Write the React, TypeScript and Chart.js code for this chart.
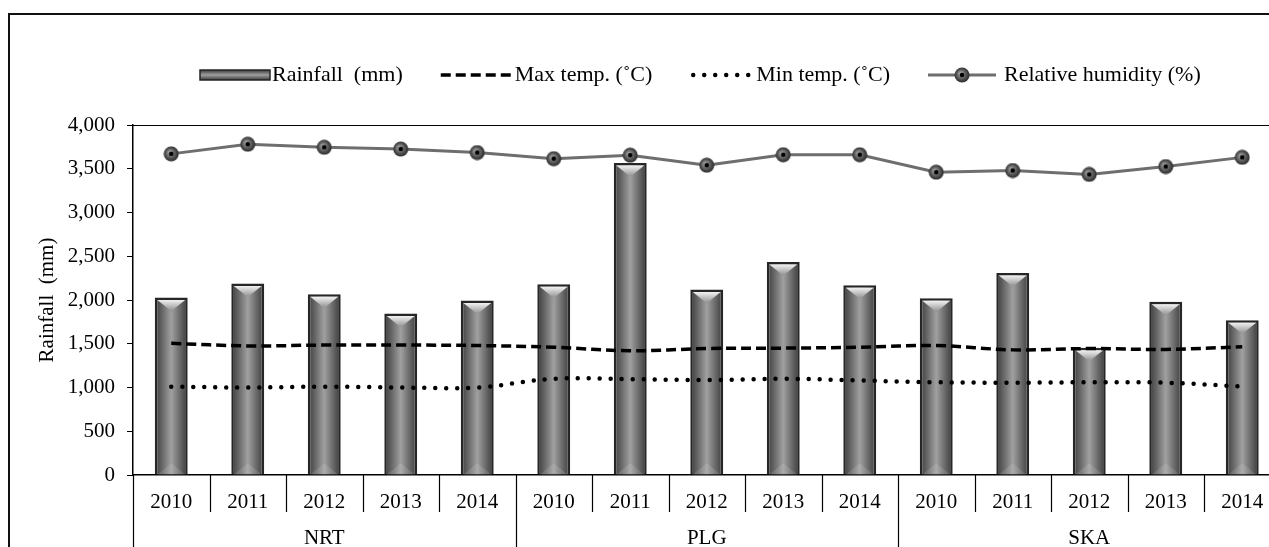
import React, { useEffect, useRef } from 'react';
import { Chart, registerables } from 'chart.js';

Chart.register(...registerables);

// ---------- data ----------
const categories = [
  '2010', '2011', '2012', '2013', '2014',
  '2010', '2011', '2012', '2013', '2014',
  '2010', '2011', '2012', '2013', '2014',
];
const groups = ['NRT', 'PLG', 'SKA'];
const rainfall = [2030, 2190, 2065, 1845, 1995, 2180, 3565, 2120, 2435, 2170, 2020, 2310, 1455, 1980, 1770];
const maxTemp = [30.1, 29.5, 29.7, 29.7, 29.6, 29.2, 28.4, 28.9, 29.0, 29.2, 29.6, 28.6, 28.9, 28.7, 29.3];
const minTemp = [20.2, 20.0, 20.2, 20.0, 20.0, 22.0, 21.9, 21.7, 22.0, 21.6, 21.2, 21.1, 21.2, 21.1, 20.2];
const humidity = [73.4, 75.6, 74.9, 74.5, 73.7, 72.3, 73.1, 70.8, 73.2, 73.2, 69.2, 69.6, 68.7, 70.5, 72.6];
const yTickValues = [0, 500, 1000, 1500, 2000, 2500, 3000, 3500, 4000];
const legendLabels = ['Rainfall  (mm)', 'Max temp. (\u02DAC)', 'Min temp. (\u02DAC)', 'Relative humidity (%)'];
const yTitle = 'Rainfall  (mm)';

const FONT = '"Liberation Serif", "Times New Roman", serif';
const BAR_PCT = 0.43;

export default function App() {
  const ref = useRef<HTMLCanvasElement>(null);

  useEffect(() => {
    const canvas = ref.current;
    if (!canvas) return;

    // humidity marker
    const marker = document.createElement('canvas');
    marker.width = 16;
    marker.height = 16;
    const mc = marker.getContext('2d')!;
    const rg = mc.createRadialGradient(6.5, 6.5, 1, 8, 8, 8);
    rg.addColorStop(0, '#a0a0a0');
    rg.addColorStop(0.65, '#4a4a4a');
    rg.addColorStop(1, '#262626');
    mc.fillStyle = rg;
    mc.beginPath();
    mc.arc(8, 8, 7.5, 0, Math.PI * 2);
    mc.fill();
    mc.fillStyle = '#000';
    mc.beginPath();
    mc.arc(8, 8, 2.3, 0, Math.PI * 2);
    mc.fill();

    const barFill = (c: any) => {
      const chart = c.chart;
      const xs = chart.scales && chart.scales.x;
      if (!xs || c.dataIndex === undefined) return '#808080';
      const cx = xs.getPixelForValue(c.dataIndex);
      const w = (xs.width / categories.length) * BAR_PCT;
      if (!Number.isFinite(cx) || !Number.isFinite(w) || w <= 0) return '#808080';
      const g = chart.ctx.createLinearGradient(cx - w / 2, 0, cx + w / 2, 0);
      g.addColorStop(0, '#3c3c3c');
      g.addColorStop(0.2, '#626262');
      g.addColorStop(0.5, '#a0a0a0');
      g.addColorStop(0.8, '#626262');
      g.addColorStop(1, '#3a3a3a');
      return g;
    };

    const bevelPlugin = {
      id: 'bevel',
      afterDatasetDraw(chart: any, args: any) {
        if (args.index !== 0) return;
        const ctx = chart.ctx;
        const meta = chart.getDatasetMeta(0);
        ctx.save();
        meta.data.forEach((bar: any) => {
          const { x, y, base, width } = bar.getProps(['x', 'y', 'base', 'width'], true);
          if (![x, y, base, width].every(Number.isFinite)) return;
          const b = 2.5;
          const l = x - width / 2 + b;
          const r = x + width / 2 - b;
          const t = y + b;
          const h = (r - l) * 0.4;
          const g = ctx.createLinearGradient(0, t, 0, t + h);
          g.addColorStop(0, '#f2f2f2');
          g.addColorStop(1, '#8e8e8e');
          ctx.fillStyle = g;
          ctx.beginPath();
          ctx.moveTo(l, t);
          ctx.lineTo(r, t);
          ctx.lineTo(x, t + h);
          ctx.closePath();
          ctx.fill();
          ctx.fillStyle = 'rgba(255,255,255,0.12)';
          ctx.beginPath();
          ctx.moveTo(l, base);
          ctx.lineTo(r, base);
          ctx.lineTo(x, base - h);
          ctx.closePath();
          ctx.fill();
        });
        ctx.restore();
      },
    };

    const axisDecor = {
      id: 'axisDecor',
      afterDraw(chart: any) {
        const ctx = chart.ctx;
        const xs = chart.scales.x;
        const area = chart.chartArea;
        const n = categories.length;
        const catW = (xs.right - xs.left) / n;
        ctx.save();
        ctx.strokeStyle = '#000';
        ctx.lineWidth = 1.2;
        ctx.beginPath();
        ctx.moveTo(area.left, area.top + 0.5);
        ctx.lineTo(xs.right, area.top + 0.5);
        ctx.stroke();
        for (let i = 0; i <= n; i++) {
          const x = Math.round(xs.getPixelForValue(0) - catW / 2 + i * catW) + 0.5;
          const long = i % 5 === 0;
          ctx.beginPath();
          ctx.moveTo(x, area.bottom);
          ctx.lineTo(x, long ? chart.height : area.bottom + 37);
          ctx.stroke();
        }
        ctx.fillStyle = '#000';
        ctx.font = '21px ' + FONT;
        ctx.textAlign = 'center';
        ctx.textBaseline = 'middle';
        groups.forEach((g, gi) => {
          const cx = (xs.getPixelForValue(gi * 5) + xs.getPixelForValue(gi * 5 + 4)) / 2;
          ctx.fillText(g, cx, area.bottom + 63);
        });
        ctx.restore();
      },
    };

    const legendPlugin = {
      id: 'customLegend',
      afterDraw(chart: any) {
        const ctx = chart.ctx;
        ctx.save();
        ctx.font = '22px ' + FONT;
        ctx.textBaseline = 'middle';
        ctx.textAlign = 'left';
        ctx.fillStyle = '#000';
        const cy = 60;
        const symW = [70, 72, 60, 68];
        const symGap = [2, 2, 6, 8];
        const itemGap = 38;
        let x = 190;
        legendLabels.forEach((label, i) => {
          const w = symW[i];
          if (i === 0) {
            const g = ctx.createLinearGradient(0, cy - 5, 0, cy + 5);
            g.addColorStop(0, '#3a3a3a');
            g.addColorStop(0.5, '#a0a0a0');
            g.addColorStop(1, '#3a3a3a');
            ctx.fillStyle = g;
            ctx.fillRect(x, cy - 5, w, 10);
            ctx.strokeStyle = '#262626';
            ctx.lineWidth = 1.5;
            ctx.strokeRect(x, cy - 5, w, 10);
          } else if (i === 1 || i === 2) {
            ctx.strokeStyle = '#000';
            ctx.lineWidth = i === 1 ? 3.5 : 4.5;
            ctx.lineCap = i === 1 ? 'butt' : 'round';
            ctx.setLineDash(i === 1 ? [10, 5] : [0, 11]);
            ctx.beginPath();
            ctx.moveTo(x + (i === 2 ? 3 : 0), cy);
            ctx.lineTo(x + w, cy);
            ctx.stroke();
            ctx.setLineDash([]);
            ctx.lineCap = 'butt';
          } else {
            ctx.strokeStyle = '#6e6e6e';
            ctx.lineWidth = 3;
            ctx.beginPath();
            ctx.moveTo(x, cy);
            ctx.lineTo(x + w, cy);
            ctx.stroke();
            ctx.drawImage(marker, x + w / 2 - 8, cy - 8);
          }
          ctx.fillStyle = '#000';
          const tx = x + w + symGap[i];
          ctx.fillText(label, tx, cy);
          x = tx + ctx.measureText(label).width + itemGap;
        });
        ctx.restore();
      },
    };

    let chart: any = null;
    try {
      chart = new Chart(canvas, {
        type: 'bar',
        data: {
          labels: categories,
          datasets: [
            {
              type: 'bar',
              label: legendLabels[0],
              data: rainfall,
              yAxisID: 'y',
              backgroundColor: barFill,
              borderColor: '#262626',
              borderWidth: 2.5,
              barPercentage: BAR_PCT,
              categoryPercentage: 1,
              order: 2,
            },
            {
              type: 'line',
              label: legendLabels[1],
              data: maxTemp,
              yAxisID: 'y1',
              borderColor: '#000',
              borderWidth: 3.5,
              borderDash: [10, 5],
              pointRadius: 0,
              tension: 0.35,
              fill: false,
              order: 1,
            },
            {
              type: 'line',
              label: legendLabels[2],
              data: minTemp,
              yAxisID: 'y1',
              borderColor: '#000',
              borderWidth: 4.5,
              borderDash: [0, 11],
              borderCapStyle: 'round',
              pointRadius: 0,
              tension: 0.35,
              fill: false,
              order: 1,
            },
            {
              type: 'line',
              label: legendLabels[3],
              data: humidity,
              yAxisID: 'y1',
              borderColor: '#6e6e6e',
              borderWidth: 3,
              pointStyle: marker as any,
              pointRadius: 8,
              tension: 0,
              fill: false,
              order: 0,
            },
          ] as any,
        },
        options: {
          responsive: false,
          devicePixelRatio: 1,
          animation: false,
          layout: { padding: { top: 110, left: 0, right: 29.5, bottom: 0 } },
          plugins: { legend: { display: false }, tooltip: { enabled: false } },
          scales: {
            x: {
              type: 'category',
              offset: true,
              grid: { display: false },
              border: { display: true, color: '#000', width: 1.5 },
              ticks: {
                color: '#000',
                font: { family: FONT, size: 21 },
                padding: 7,
                maxRotation: 0,
                autoSkip: false,
              },
              afterFit: (s: any) => {
                s.height = 80;
              },
            },
            y: {
              position: 'left',
              min: 0,
              max: 4000,
              afterBuildTicks: (s: any) => {
                s.ticks = yTickValues.map((v) => ({ value: v }));
              },
              ticks: {
                color: '#000',
                font: { family: FONT, size: 21 },
                padding: 12,
                callback: (v: any) => Number(v).toLocaleString('en-US'),
              },
              grid: { drawOnChartArea: false, drawTicks: true, tickLength: 6, color: '#000' },
              border: { display: true, color: '#000', width: 1.5 },
              title: {
                display: true,
                text: yTitle,
                color: '#000',
                font: { family: FONT, size: 21 },
                padding: { top: 25, bottom: 0 },
              },
              afterFit: (s: any) => {
                s.width = 123;
              },
            },
            y1: {
              position: 'right',
              display: false,
              min: 0,
              max: 80,
            },
          },
        } as any,
        plugins: [bevelPlugin, axisDecor, legendPlugin],
      });
    } catch (e) {
      console.error(e);
    }

    return () => {
      if (chart) chart.destroy();
    };
  }, []);

  return (
    <div
      style={{
        position: 'fixed',
        left: 8,
        top: 13,
        width: 1261,
        height: 534,
        overflow: 'hidden',
        borderTop: '2px solid #111',
        borderLeft: '2px solid #111',
        boxSizing: 'border-box',
        background: '#fff',
      }}
    >
      <canvas
        ref={ref}
        width={1300}
        height={540}
        style={{ position: 'absolute', left: 0, top: 0, width: 1300, height: 540 }}
      />
    </div>
  );
}
